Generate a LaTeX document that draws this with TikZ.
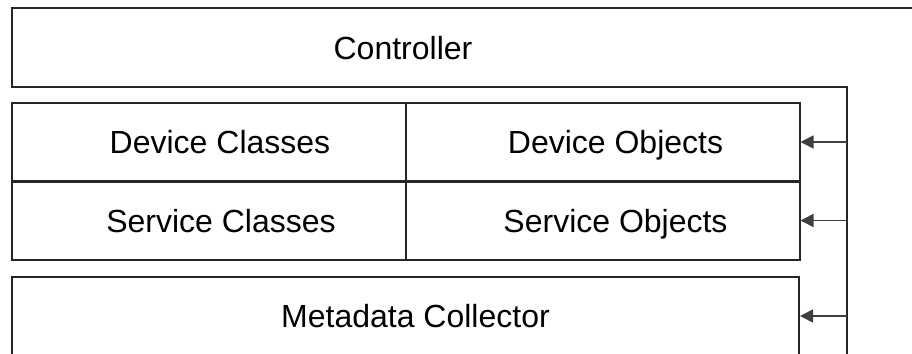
\documentclass[tikz,border=0pt]{standalone}
\usepackage{fontspec}
\setmainfont{Liberation Sans}
\usetikzlibrary{arrows.meta}
\begin{document}
\begin{tikzpicture}[x=0.5pt,y=-0.5pt,
  cell/.style={draw=black!85, line width=1pt, inner sep=0pt, minimum width=197pt, minimum height=39.5pt},
  wide/.style={draw=black!85, line width=1pt, inner sep=0pt, minimum width=393.5pt, minimum height=39pt},
  lbl/.style={font=\fontsize{16}{19}\selectfont, inner sep=0pt, text height=11.5pt, text depth=0pt},
  feed/.style={draw=black!75, line width=0.8pt, -{Triangle[length=6.5pt,width=6.5pt]}}]
\useasboundingbox (0,0) rectangle (912,354);
\clip (0,0) rectangle (912,354);

% controller frame with the vertical bus on its right side
\coordinate (ctrTR) at (912,8);
\coordinate (ctrTL) at (12,8);
\coordinate (ctrBL) at (12,86.5);
\coordinate (busTop) at (846.5,86.5);
\coordinate (busEnd) at (846.5,360);
\draw[black!85, line width=1pt] (ctrTR) -- (ctrTL) -- (ctrBL) -- (busTop) -- (busEnd);
\node[lbl] (ctrl) at (403,48) {Controller};

% class / object grid
\node[cell] (devcls) at (209,142) {};
\node[cell] (devobj) at (602.5,142) {};
\node[cell] (svccls) at (209,220.5) {};
\node[cell] (svcobj) at (602.5,220.5) {};
\node[lbl] at ([xshift=5.5pt]devcls.center) {Device Classes};
\node[lbl] at ([xshift=6.5pt]devobj.center) {Device Objects};
\node[lbl] at ([xshift=6pt]svccls.center) {Service Classes};
\node[lbl] at ([xshift=6.5pt]svcobj.center) {Service Objects};

% metadata collector
\node[wide] (meta) at (405.5,316) {};
\node[lbl] at ([xshift=5pt]meta.center) {Metadata Collector};

% feeds from the bus
\coordinate (tapA) at (busTop |- devobj.east);
\coordinate (tapB) at (busTop |- svcobj.east);
\coordinate (tapC) at (busTop |- meta.east);
\draw[feed] (tapA) -- (devobj.east);
\draw[feed] (tapB) -- (svcobj.east);
\draw[feed] (tapC) -- (meta.east);
\end{tikzpicture}
\end{document}
